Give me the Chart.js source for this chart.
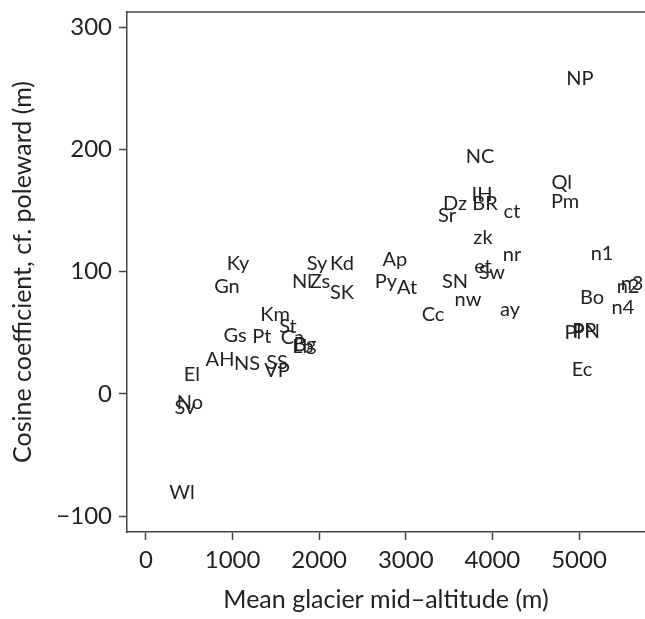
<!DOCTYPE html>
<html>
<head>
<meta charset="utf-8">
<script src="https://cdn.jsdelivr.net/npm/chart.js@4/dist/chart.umd.min.js"></script>
<style>
  html, body { margin: 0; padding: 0; background: #fff; }
  #wrap { width: 645px; height: 619px; }
</style>
</head>
<body>
<div id="wrap"><canvas id="glacierChart" width="645" height="619"></canvas></div>
<script>
// glacier region codes
const regionCodes = ['NP', 'NC', 'Ql', 'Pm', 'IH', 'BR', 'Dz', 'Sr', 'ct', 'zk', 'nr', 'et', 'Sw', 'SN', 'nw', 'ay', 'Cc',
  'Ap', 'Py', 'At', 'Kd', 'Sy', 'Nl', 'Zs', 'SK', 'Ky', 'Gn', 'Km', 'St', 'Gs', 'Pt', 'Ca', 'Lb', 'Bg',
  'AH', 'NS', 'SS', 'VP', 'El', 'No', 'Sv', 'Wl', 'n1', 'n2', 'n3', 'Bo', 'n4', 'Pl', 'PP', 'PN', 'Ec'];
// mean mid-altitude (m)
const midAltitude = [5010, 3857, 4800, 4840, 3880, 3915, 3568, 3476, 4226, 3891, 4226, 3891, 3995, 3568, 3718, 4203, 3314,
  2875, 2771, 3014, 2263, 1975, 1801, 2009, 2263, 1062, 935, 1490, 1640, 1028, 1339, 1690, 1813, 1836,
  855, 1166, 1513, 1513, 531, 508, 450, 416, 5266, 5566, 5612, 5150, 5508, 4930, 5060, 5085, 5035];
// cosine coefficient (m)
const cosineCoef = [258, 194, 173, 157, 163, 156, 156, 146, 149, 128, 114, 104, 99, 92, 77, 69, 65,
  110, 92, 87, 107, 107, 92, 92, 83, 107, 88, 65, 55, 48, 47, 46, 39, 40,
  28, 25, 26, 19, 16, -7, -11, -81, 115, 88, 90, 79, 71, 50, 52, 51, 20];

const xTicks = [0, 1000, 2000, 3000, 4000, 5000];
const yTicks = [-100, 0, 100, 200, 300];

const fontFam = "Lato, 'Open Sans', sans-serif";
const ink = '#222';

// draw the region codes where the (hidden) points sit
const codeLabels = {
  id: 'codeLabels',
  afterDatasetsDraw(chart) {
    const ctx = chart.ctx;
    const meta = chart.getDatasetMeta(0);
    ctx.save();
    ctx.fillStyle = '#222';
    ctx.font = "20px " + fontFam;
    ctx.textAlign = 'center';
    ctx.textBaseline = 'middle';
    meta.data.forEach((pt, i) => {
      ctx.fillText(regionCodes[i], pt.x, pt.y);
    });
    ctx.restore();
  }
};

// top edge of the frame
const frameTop = {
  id: 'frameTop',
  afterDraw(chart) {
    const a = chart.chartArea;
    const ctx = chart.ctx;
    ctx.save();
    ctx.strokeStyle = '#444';
    ctx.lineWidth = 1.5;
    ctx.beginPath();
    ctx.moveTo(a.left, a.top);
    ctx.lineTo(a.right, a.top);
    ctx.stroke();
    ctx.restore();
  }
};

const ctx = document.getElementById('glacierChart').getContext('2d');
new Chart(ctx, {
  type: 'scatter',
  data: {
    datasets: [{
      data: midAltitude.map((x, i) => ({ x, y: cosineCoef[i] })),
      pointRadius: 0,
      pointHoverRadius: 0
    }]
  },
  options: {
    responsive: false,
    animation: false,
    events: [],
    layout: { padding: { top: 12, right: 0, left: 0, bottom: 0 } },
    plugins: { legend: { display: false }, tooltip: { enabled: false } },
    scales: {
      x: {
        type: 'linear',
        min: -219,
        max: 5762,
        afterFit(s) { s.height = 87; s.paddingLeft = 0; s.paddingRight = 0; },
        afterBuildTicks(s) { s.ticks = xTicks.map(v => ({ value: v })); },
        border: { display: true, color: '#444', width: 1.5 },
        grid: { drawOnChartArea: false, drawTicks: true, tickLength: 8, tickColor: '#444', tickWidth: 1.5 },
        ticks: { color: ink, font: { family: fontFam, size: 24 }, padding: 6, maxRotation: 0, callback: v => String(v) },
        title: { display: true, text: 'Mean glacier mid\u2013altitude (m)', color: ink, font: { family: fontFam, size: 25 }, padding: { top: 0 } }
      },
      y: {
        type: 'linear',
        min: -113,
        max: 312.5,
        afterFit(s) { s.width = 127; s.paddingTop = 0; s.paddingBottom = 0; },
        afterBuildTicks(s) { s.ticks = yTicks.map(v => ({ value: v })); },
        border: { display: true, color: '#444', width: 1.5 },
        grid: { drawOnChartArea: false, drawTicks: true, tickLength: 8, tickColor: '#444', tickWidth: 1.5 },
        ticks: { color: ink, font: { family: fontFam, size: 24 }, padding: 7, callback: v => (v < 0 ? '\u2212' + Math.abs(v) : String(v)) },
        title: { display: true, text: 'Cosine coefficient, cf. poleward (m)', color: ink, font: { family: fontFam, size: 25 }, padding: { top: 8, bottom: 0 } }
      }
    }
  },
  plugins: [codeLabels, frameTop]
});
</script>
</body>
</html>
